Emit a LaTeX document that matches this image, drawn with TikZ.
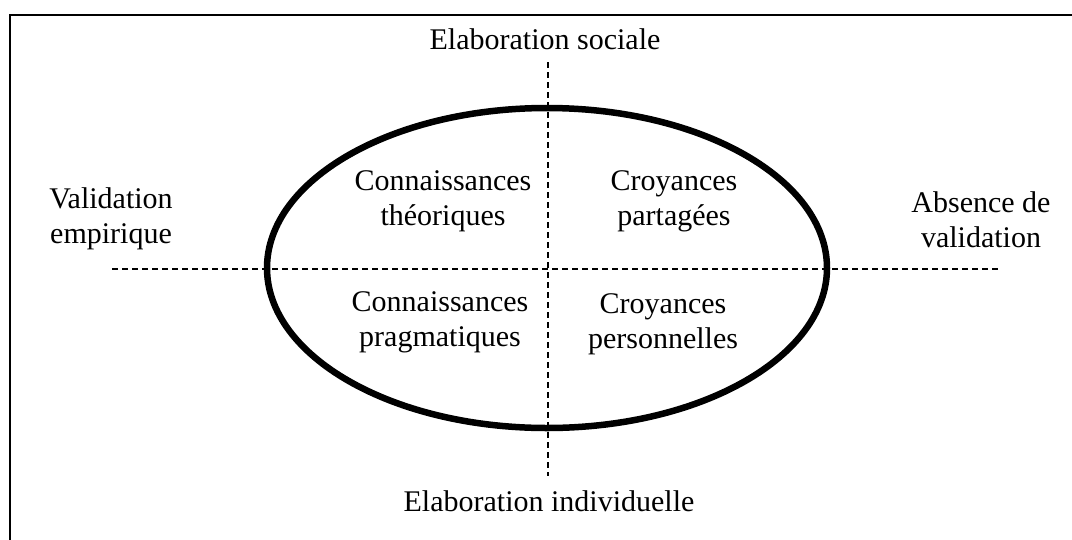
\documentclass[tikz,border=0pt]{standalone}
\usepackage{fontspec}
\setmainfont{Liberation Serif}
\usetikzlibrary{shapes.geometric}
\begin{document}
\begin{tikzpicture}[x=1pt,y=-1pt,
  lbl/.style={font=\fontsize{30}{35}\selectfont, align=center, inner sep=0pt},
  axis/.style={dashed, dash pattern=on 6pt off 4pt, line width=1.5pt},
  frame/.style={line width=2pt},
  oval/.style={ellipse, draw, line width=6.5pt, minimum width=560pt, minimum height=320pt, inner sep=0pt}]
\useasboundingbox (0,0) rectangle (1072,539);
% frame (top and left only)
\coordinate (fbl) at (10,540);
\coordinate (ftl) at (10,15);
\coordinate (ftr) at (1073,15);
\draw[frame] (fbl) -- (ftl) -- (ftr);
% axes
\coordinate (vt) at (548,62);
\coordinate (vb) at (548,476);
\coordinate (hl) at (112,269);
\coordinate (hr) at (1000,269);
\node[oval] (ell) at (547,268) {};
\draw[axis] (vt) -- (vb);
\draw[axis] (hl) -- (hr);
% labels
\node[lbl, anchor=base] (soc) at (545,49) {Elaboration sociale};
\node[lbl, anchor=base] (ind) at (549,511) {Elaboration individuelle};
\node[lbl] (val) at (111,219) {Validation\\empirique};
\node[lbl] (abs) at (981,220) {Absence de\\validation};
\node[lbl] (ct) at (443,201) {Connaissances\\théoriques};
\node[lbl] (cp) at (674,201) {Croyances\\partagées};
\node[lbl] (cpr) at (440,322) {Connaissances\\pragmatiques};
\node[lbl] (cpe) at (663,324) {Croyances\\personnelles};
\end{tikzpicture}
\end{document}
